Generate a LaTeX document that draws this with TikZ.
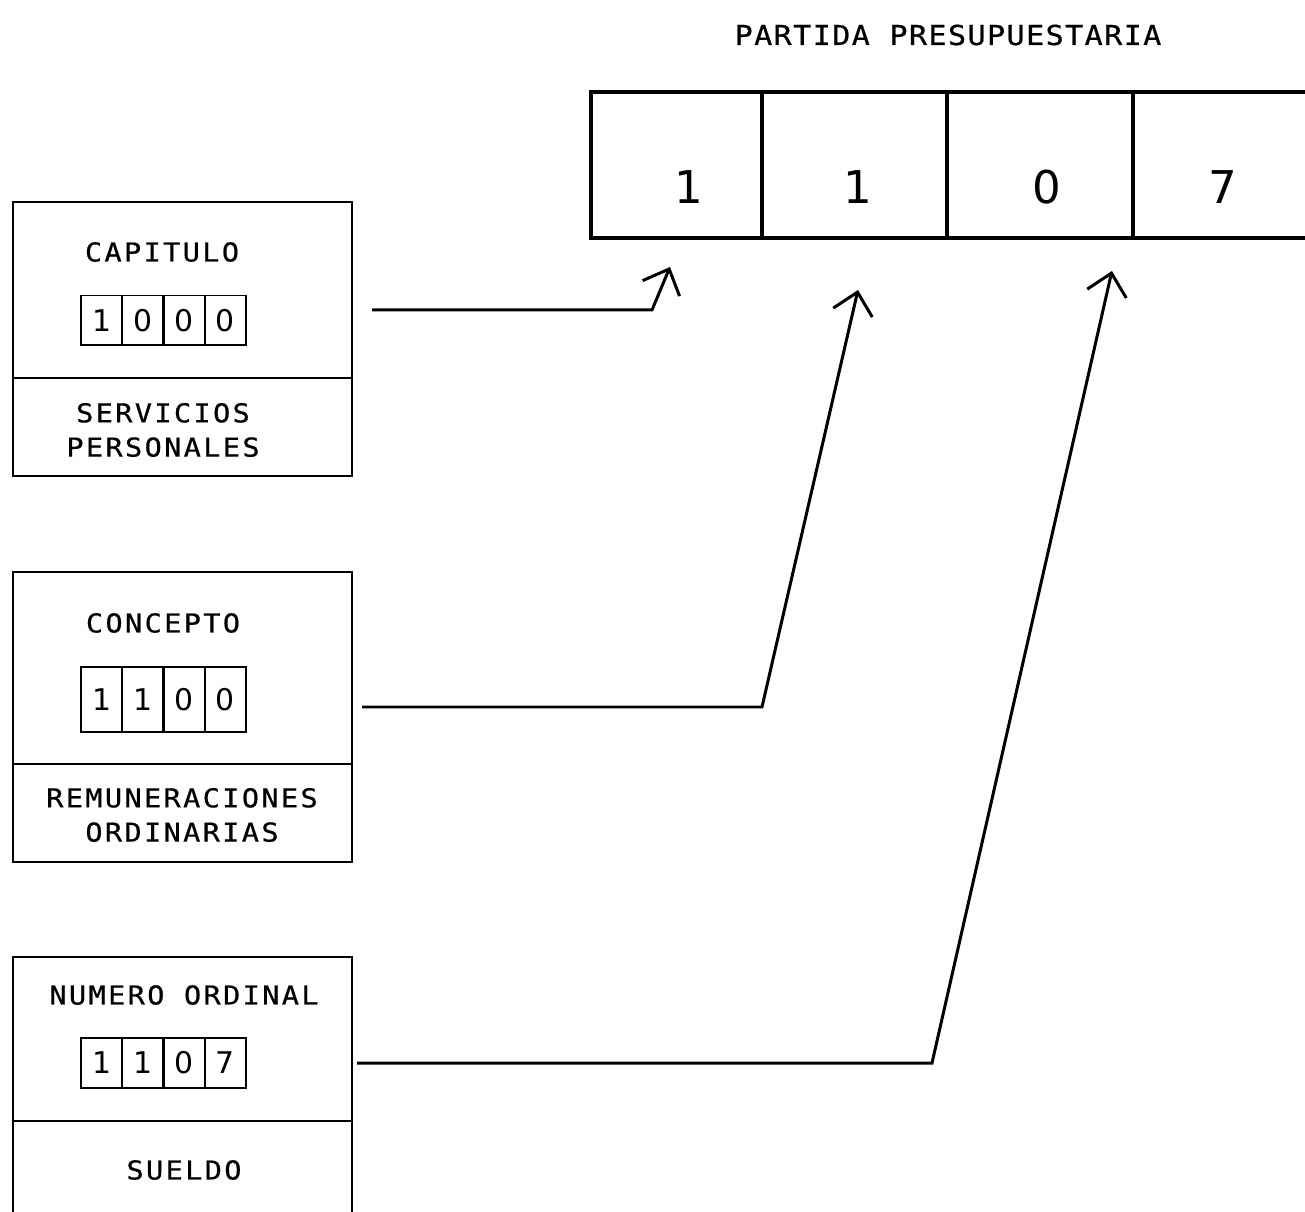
\documentclass[tikz,border=0pt]{standalone}
\usepackage{fontspec}
\newfontfamily\maquina[FakeStretch=1.1, LetterSpace=9, FakeBold=0.6]{DejaVu Sans Mono}
\newfontfamily\maquinatit[FakeStretch=1.1, LetterSpace=5, FakeBold=0.6]{DejaVu Sans Mono}
\newfontfamily\cifras{DejaVu Sans}
\usetikzlibrary{arrows.meta, positioning, calc}

\begin{document}
\begin{tikzpicture}[
        x=0.02cm, y=-0.02cm,
        panel/.style={draw, line width=0.04cm, minimum width=6.78cm, inner sep=0, outer sep=0},
        rotulo/.style={font=\fontsize{14.8}{19.5}\maquina, align=center, inner sep=0},
        titulo/.style={font=\fontsize{15.6}{18}\maquinatit, inner sep=0},
        cifra/.style={draw, line width=0.04cm, minimum width=0.825cm, minimum height=1cm, inner sep=0, outer sep=0, font=\fontsize{17}{20}\cifras},
        celda/.style={draw, line width=0.08cm, minimum height=2.92cm, inner sep=0, outer sep=0},
        digito/.style={font=\fontsize{25.7}{30}\cifras, inner sep=0},
        flecha/.style={-{Straight Barb[length=0.42cm, width=0.8cm]}, line width=0.06cm}
    ]
        \useasboundingbox (0,0) rectangle (1305,1212);

        % partida presupuestaria
        \node[titulo] (tit) at (948,35) {PARTIDA PRESUPUESTARIA};
        \node[celda, minimum width=3.42cm] (p1) at (676.5,165) {};
        \node[celda, minimum width=3.7cm, right=0pt of p1] (p2) {};
        \node[celda, minimum width=3.72cm, right=0pt of p2] (p3) {};
        \node[celda, minimum width=3.7cm, right=0pt of p3] (p4) {};
        \foreach \c/\d/\dx in {p1/1/12, p2/1/3, p3/0/7, p4/7/-3}
            \node[digito] (d\c) at ($(\c.center)+(\dx,22)$) {\d};

        % capitulo
        \node[panel, anchor=north west, minimum height=3.52cm] (cap) at (13,202) {};
        \node[panel, below=0pt of cap, minimum height=1.96cm] (capinf) {};
        \node[rotulo] (captit) at (162,252) {CAPITULO};
        \foreach \d [count=\i] in {1,0,0,0}
            \node[cifra] (cap\i) at ({81+41.25*(\i-0.5)},320.5) {\d};
        \node[rotulo] (capdesc) at (163,430) {SERVICIOS\\PERSONALES};

        % concepto
        \node[panel, anchor=north west, minimum height=3.84cm] (con) at (13,572) {};
        \node[panel, below=0pt of con, minimum height=1.96cm] (coninf) {};
        \node[rotulo] (contit) at (163,623) {CONCEPTO};
        \foreach \d [count=\i] in {1,1,0,0}
            \node[cifra, minimum height=1.3cm] (con\i) at ({81+41.25*(\i-0.5)},699.5) {\d};
        \node[rotulo] (condesc) at (182,815) {REMUNERACIONES\\ORDINARIAS};

        % numero ordinal
        \node[panel, anchor=north west, minimum height=3.28cm] (num) at (13,957) {};
        \node[panel, below=0pt of num, minimum height=1.96cm] (numinf) {};
        \node[rotulo] (numtit) at (184,995) {NUMERO ORDINAL};
        \foreach \d [count=\i] in {1,1,0,7}
            \node[cifra] (num\i) at ({81+41.25*(\i-0.5)},1063) {\d};
        \node[rotulo] (numdesc) at (184,1170) {SUELDO};

        % conectores
        \coordinate (ini1) at (372,310);
        \coordinate (cod1) at (652,310);
        \coordinate (ini2) at (362,707);
        \coordinate (cod2) at (762,707);
        \coordinate (ini3) at (357,1063);
        \coordinate (cod3) at (932,1063);
        \draw[flecha] (ini1) -- (cod1) -- ($(p1.south)+(-6.5,29)$);
        \draw[flecha] (ini2) -- (cod2) -- ($(p2.south)+(3.5,52)$);
        \draw[flecha] (ini3) -- (cod3) -- ($(p3.south)+(72,33)$);
    \end{tikzpicture}
\end{document}
